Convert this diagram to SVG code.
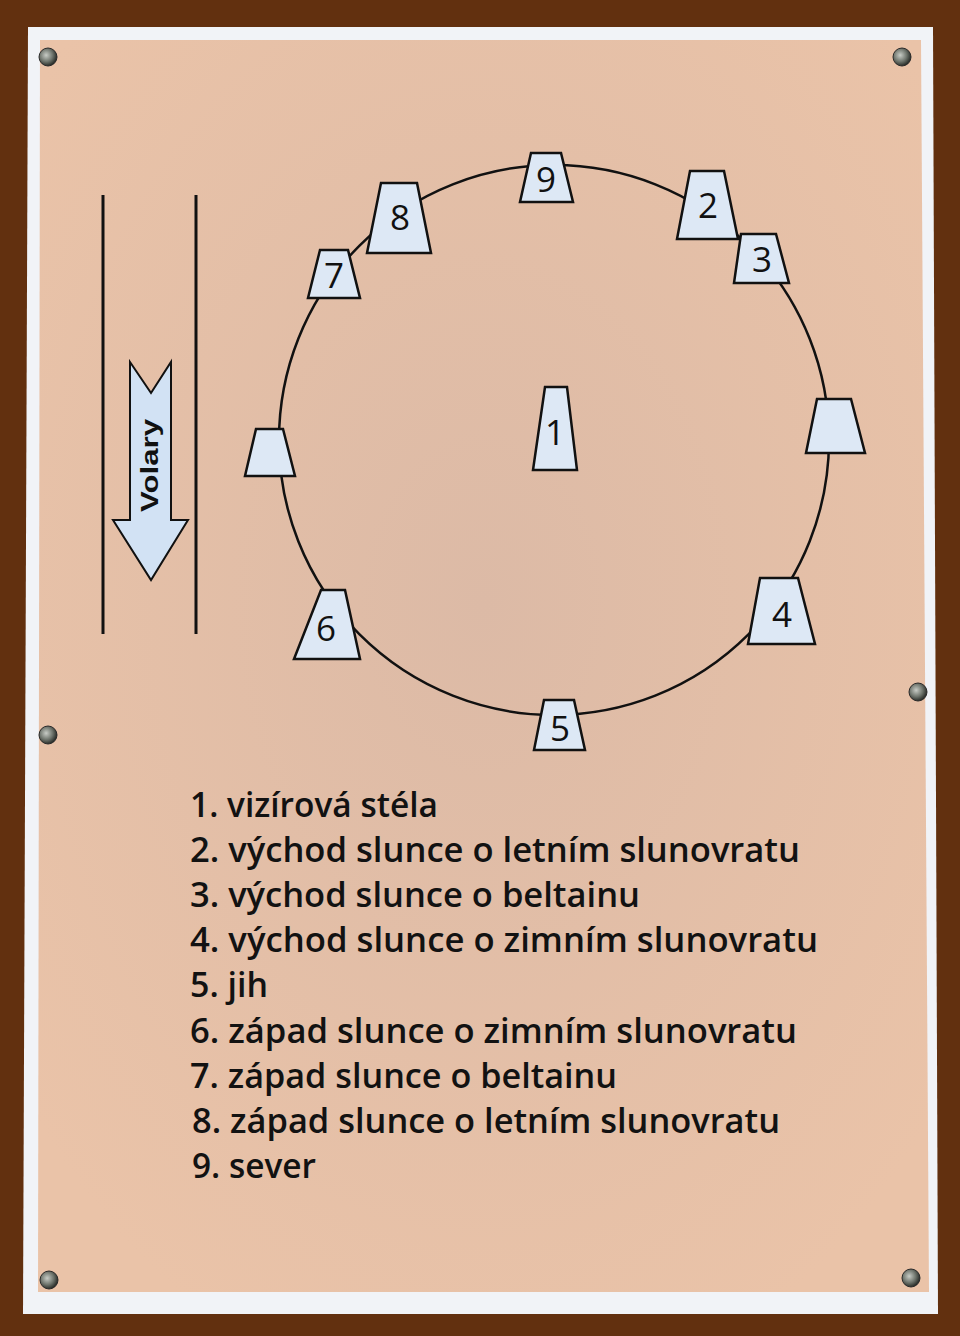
<svg xmlns="http://www.w3.org/2000/svg" width="960" height="1336" viewBox="0 0 960 1336">
<defs>
<radialGradient id="peach" cx="50%" cy="45%" r="65%">
<stop offset="0" stop-color="#dcbaa6"/>
<stop offset="1" stop-color="#eac3a8"/>
</radialGradient>
<radialGradient id="screw" cx="40%" cy="40%" r="60%">
<stop offset="0" stop-color="#c8ccc6"/>
<stop offset="0.6" stop-color="#6e746c"/>
<stop offset="1" stop-color="#2a2e2a"/>
</radialGradient>
<style>
.trap{fill:#dde8f5;stroke:#111;stroke-width:2.5;stroke-linejoin:miter}
.num{font-family:"Open Sans","Noto Sans",sans-serif;font-size:35px;font-weight:500;fill:#111;text-anchor:middle}
.item{font-family:"Open Sans","Noto Sans",sans-serif;font-size:35px;font-weight:600;fill:#121212}
.rail{stroke:#111;stroke-width:3}
.scr{fill:url(#screw);stroke:#2a2a2a;stroke-width:1}
</style>
</defs>
<rect x="0" y="0" width="960" height="1336" fill="#62300f"/>
<polygon points="28,27 933,27 938,1314 23,1314" fill="#f1f3f7"/>
<polygon points="40,40 921,40 929,1292 38,1292" fill="url(#peach)"/>
<g id="screws">
<circle class="scr" cx="48" cy="57" r="9"/>
<circle class="scr" cx="902" cy="57" r="9"/>
<circle class="scr" cx="48" cy="735" r="9"/>
<circle class="scr" cx="918" cy="692" r="9"/>
<circle class="scr" cx="49" cy="1280" r="9"/>
<circle class="scr" cx="911" cy="1278" r="9"/>
</g>
<g id="road">
<line class="rail" x1="103" y1="195" x2="103" y2="634"/>
<line class="rail" x1="196" y1="195" x2="196" y2="634"/>
<polygon points="130,362 151,393 171,362 171,520 188,520 151,580 113,520 130,520" fill="#d2e2f4" stroke="#111" stroke-width="2"/>
<text x="0" y="0" transform="translate(158,512) rotate(-90)" font-family="'Liberation Sans',Arial,sans-serif" font-size="23" font-weight="bold" fill="#111" textLength="93" lengthAdjust="spacingAndGlyphs">Volary</text>
</g>
<g id="connectors">
<circle cx="554" cy="440" r="275" fill="none" stroke="#111" stroke-width="2.5"/>
</g>
<g id="n9"><polygon class="trap" points="531,153 561,153 573,202 520,202"/><text class="num" x="546" y="192">9</text></g>
<g id="n2"><polygon class="trap" points="690,171 724,171 738,239 677,239"/><text class="num" x="708" y="218">2</text></g>
<g id="n3"><polygon class="trap" points="741,234 776,234 789,283 734,283"/><text class="num" x="762" y="272">3</text></g>
<g id="n8"><polygon class="trap" points="381,183 417,183 431,253 367,253"/><text class="num" x="400" y="230">8</text></g>
<g id="n7"><polygon class="trap" points="320,250 348,250 360,298 308,298"/><text class="num" x="334" y="288">7</text></g>
<g id="nleft"><polygon class="trap" points="256,429 283,429 295,476 245,476"/></g>
<g id="nright"><polygon class="trap" points="817,399 851,399 865,453 806,453"/></g>
<g id="n1"><polygon class="trap" points="545,387 567,387 577,470 533,470"/><text class="num" x="555" y="445">1</text></g>
<g id="n6"><polygon class="trap" points="321,590 345,590 360,659 294,659"/><text class="num" x="326" y="641">6</text></g>
<g id="n4"><polygon class="trap" points="760,578 798,578 815,644 748,644"/><text class="num" x="782" y="627">4</text></g>
<g id="n5"><polygon class="trap" points="544,700 574,700 585,750 534,750"/><text class="num" x="560" y="741">5</text></g>
<g id="legend">
<text class="item" x="190" y="817" textLength="248" lengthAdjust="spacingAndGlyphs">1. vizírová stéla</text>
<text class="item" x="190" y="862" textLength="610" lengthAdjust="spacingAndGlyphs">2. východ slunce o letním slunovratu</text>
<text class="item" x="190" y="907" textLength="450" lengthAdjust="spacingAndGlyphs">3. východ slunce o beltainu</text>
<text class="item" x="190" y="952" textLength="628" lengthAdjust="spacingAndGlyphs">4. východ slunce o zimním slunovratu</text>
<text class="item" x="190" y="997" textLength="78" lengthAdjust="spacingAndGlyphs">5. jih</text>
<text class="item" x="190" y="1043" textLength="607" lengthAdjust="spacingAndGlyphs">6. západ slunce o zimním slunovratu</text>
<text class="item" x="190" y="1088" textLength="427" lengthAdjust="spacingAndGlyphs">7. západ slunce o beltainu</text>
<text class="item" x="192" y="1133" textLength="588" lengthAdjust="spacingAndGlyphs">8. západ slunce o letním slunovratu</text>
<text class="item" x="192" y="1178" textLength="124" lengthAdjust="spacingAndGlyphs">9. sever</text>
</g>
</svg>
